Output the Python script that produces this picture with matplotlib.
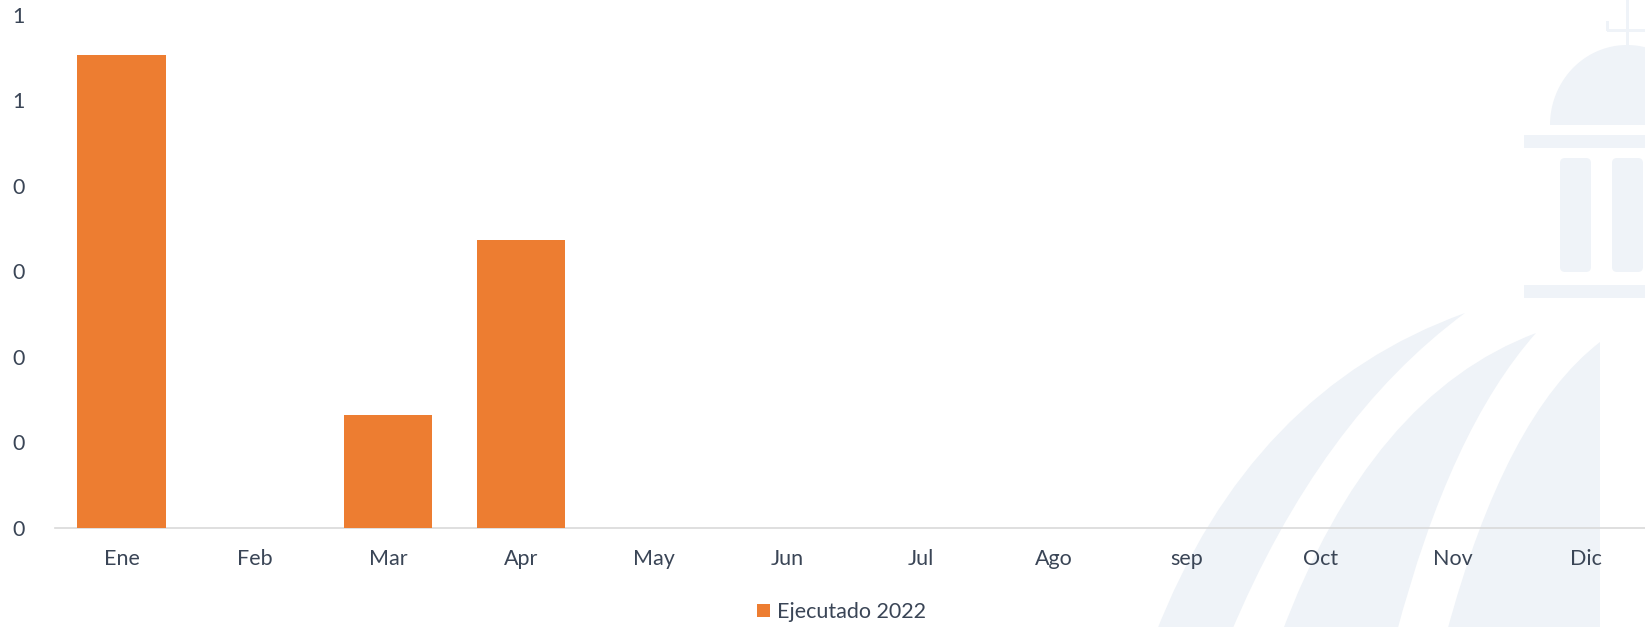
import numpy as np
import matplotlib
matplotlib.use("Agg")
import matplotlib.pyplot as plt
from matplotlib.path import Path
from matplotlib.patches import PathPatch, Rectangle, FancyBboxPatch, Polygon, Patch
from matplotlib.ticker import FixedLocator, FuncFormatter

# ---- data ----
months = ["Ene", "Feb", "Mar", "Apr", "May", "Jun", "Jul", "Ago", "sep", "Oct", "Nov", "Dic"]
ejecutado_2022 = [0.553, 0, 0.132, 0.337, 0, 0, 0, 0, 0, 0, 0, 0]
y_ticks = [0.0, 0.1, 0.2, 0.3, 0.4, 0.5, 0.6]
series_label = "Ejecutado 2022"

# ---- style ----
BAR_COLOR = "#ED7D31"
TEXT_COLOR = "#3A4556"
AXIS_COLOR = "#D9D9D9"
EMBLEM_COLOR = "#EFF3F8"
FONT = ["Lato", "DejaVu Sans"]
FS = 15.5

plt.rcParams["font.family"] = FONT

W, H = 1645, 627
fig = plt.figure(figsize=(W / 100, H / 100), dpi=100)
fig.patch.set_facecolor("white")

# ---- faint building emblem in the background (pixel coordinates) ----
bg = fig.add_axes([0, 0, 1, 1], zorder=0)
bg.set_xlim(0, W)
bg.set_ylim(H, 0)
bg.axis("off")

def swoosh(p0, c1, tip, c2, p1):
    verts = [p0, c1, tip, c2, p1, p0]
    codes = [Path.MOVETO, Path.CURVE3, Path.CURVE3, Path.CURVE3, Path.CURVE3, Path.CLOSEPOLY]
    return PathPatch(Path(verts, codes), facecolor=EMBLEM_COLOR, edgecolor="none")

bg.add_patch(swoosh((1155, 635), (1250, 390), (1465, 313), (1320, 420), (1230, 635)))
bg.add_patch(swoosh((1281, 635), (1370, 395), (1536, 333), (1450, 430), (1396, 635)))
verts3 = [(1446, 635), (1505, 415), (1600, 342), (1600, 635), (1446, 635)]
codes3 = [Path.MOVETO, Path.CURVE3, Path.CURVE3, Path.LINETO, Path.CLOSEPOLY]
bg.add_patch(PathPatch(Path(verts3, codes3), facecolor=EMBLEM_COLOR, edgecolor="none"))

# dome
theta = np.linspace(0, np.pi, 80)
dome = np.column_stack([1627 - 77 * np.cos(theta), 125 - 80 * np.sin(theta)])
bg.add_patch(Polygon(dome, closed=True, facecolor=EMBLEM_COLOR, edgecolor="none"))
# cross on top
bg.add_patch(Rectangle((1625.5, 0), 3, 47, facecolor=EMBLEM_COLOR, edgecolor="none"))
bg.add_patch(Rectangle((1607, 28.5), 40, 3, facecolor=EMBLEM_COLOR, edgecolor="none"))
bg.add_patch(Rectangle((1605.5, 21), 3.5, 10, facecolor=EMBLEM_COLOR, edgecolor="none"))
# entablature bands
bg.add_patch(Rectangle((1524, 135), 130, 13, facecolor=EMBLEM_COLOR, edgecolor="none"))
bg.add_patch(Rectangle((1524, 285), 130, 13, facecolor=EMBLEM_COLOR, edgecolor="none"))
# columns
for x0 in (1560, 1612):
    bg.add_patch(FancyBboxPatch((x0, 158), 31, 114,
                                boxstyle="round,pad=0,rounding_size=5",
                                facecolor=EMBLEM_COLOR, edgecolor="none"))

# ---- bar chart ----
ax = fig.add_axes([55 / W, (H - 527.7) / H, 1598 / W, (527.7 - 15) / H], zorder=1)
ax.patch.set_visible(False)

x = np.arange(len(months))
ax.bar(x, ejecutado_2022, width=0.664, color=BAR_COLOR, zorder=2, label=series_label)

ax.set_xlim(-0.5, len(months) - 0.5)
ax.set_ylim(y_ticks[0], y_ticks[-1])

ax.set_xticks(x)
ax.set_xticklabels(months)
ax.yaxis.set_major_locator(FixedLocator(y_ticks))
ax.yaxis.set_major_formatter(FuncFormatter(lambda v, _: f"{int(np.floor(v + 0.5 + 1e-9))}"))

for s in ("top", "right", "left"):
    ax.spines[s].set_visible(False)
ax.spines["bottom"].set_color(AXIS_COLOR)
ax.spines["bottom"].set_linewidth(1.2)
ax.spines["bottom"].set_zorder(1)

ax.tick_params(axis="x", length=0, pad=15.5, labelsize=FS, labelcolor=TEXT_COLOR)
ax.tick_params(axis="y", length=0, pad=22, labelsize=FS, labelcolor=TEXT_COLOR)
for lbl in ax.get_yticklabels():
    lbl.set_horizontalalignment("right")

handles = [Patch(facecolor=BAR_COLOR, edgecolor="none", label=series_label)]
fig.legend(handles=handles, loc="center",
           bbox_to_anchor=(841.5 / W, (H - 612) / H),
           frameon=False, fontsize=FS, labelcolor=TEXT_COLOR,
           handlelength=0.61, handleheight=0.61, handletextpad=0.3,
           borderpad=0, borderaxespad=0)

fig.savefig("out.png", dpi=100, facecolor="white")
